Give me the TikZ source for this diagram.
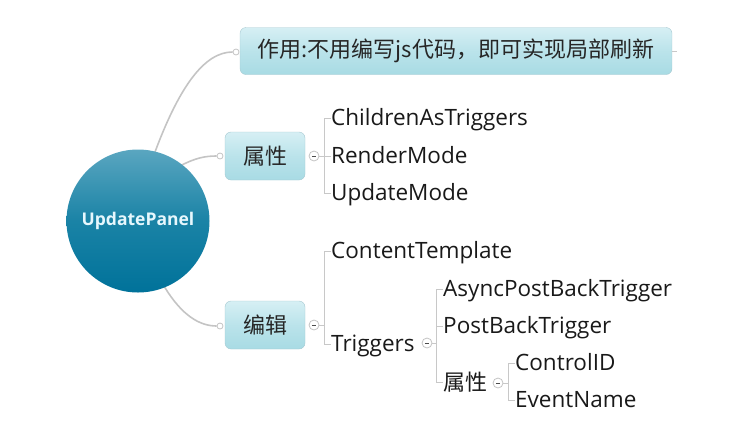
\documentclass[tikz,border=0pt]{standalone}
\usepackage{fontspec}
\setmainfont{Open Sans}
\newfontfamily\cjk{Noto Sans CJK SC}
\definecolor{lnk}{HTML}{C4C4C4}
\definecolor{brk}{HTML}{C8C8C8}
\definecolor{boxtop}{HTML}{D6EFF4}
\definecolor{boxbot}{HTML}{A8DBE4}
\definecolor{boxline}{HTML}{A6C9D1}
\definecolor{ctop}{HTML}{5AA6C0}
\definecolor{cmid}{HTML}{1A83A6}
\definecolor{cbot}{HTML}{00729A}
\tikzset{
  x=1pt, y=-1pt,
  topic/.style={draw=boxline, rounded corners=6pt, top color=boxtop, bottom color=boxbot, middle color=boxbot!60!boxtop, inner sep=0pt, font=\cjk\fontsize{22}{22}\selectfont, text=black!85},
  leaf/.style={anchor=base west, inner sep=0pt, font=\fontsize{22.5}{23}\selectfont, text=black!90},
  cleaf/.style={anchor=west, inner sep=0pt, font=\cjk\fontsize{22}{22}\selectfont, text=black!90},
  link/.style={draw=lnk, line width=1.6pt},
  brack/.style={draw=brk, line width=0.9pt},
  dot/.style={circle, draw=lnk, fill=white, minimum size=6pt, inner sep=0pt, line width=0.8pt},
  fold/.style={circle, draw=lnk, fill=white, minimum size=10pt, inner sep=0pt, line width=0.8pt, path picture={\draw[black!70, line width=0.8pt] ([xshift=-2.2pt]path picture bounding box.center) -- ([xshift=2.2pt]path picture bounding box.center);}}
}
\begin{document}
\begin{tikzpicture}
\useasboundingbox (0,0) rectangle (738,429);
% top box
\node[topic, minimum width=432pt, minimum height=47pt] (t1) at (456,51) {作用:不用编写js代码，即可实现局部刷新};
\coordinate (t1s) at (677,51);
\draw[brack] (t1.east) -- (t1s);
\node[topic, minimum width=80pt, minimum height=48pt] (p) at (265,156) {属性};
\node[topic, minimum width=80pt, minimum height=48pt] (e) at (265,325) {编辑};
\node[dot] (d1) at (236,52) {};
\node[dot] (d2) at (220,156) {};
\node[dot] (d3) at (220,326) {};
% connectors from center
\coordinate (c1) at (155,152);
\coordinate (c2) at (180,166);
\coordinate (c3) at (164,286);
\draw[link] (c1) .. controls (180,85) and (205,52) .. (d1.west);
\draw[link] (c2) .. controls (195,158) and (205,156) .. (d2.west);
\draw[link] (c3) .. controls (182,316) and (200,326) .. (d3.west);
% center circle
\node[circle, minimum size=143pt, inner sep=0pt, top color=ctop, bottom color=cbot, middle color=cmid] (c) at (138,221) {};
\node[font=\bfseries\fontsize{17.5}{18}\selectfont, text=white!90!cyan] (ct) at (138,221) {UpdatePanel};
% 属性 children
\node[fold] (f1) at (314,156) {};
\node[leaf] (a1) at (331,125) {ChildrenAsTriggers};
\node[leaf] (a2) at (331,163) {RenderMode};
\node[leaf] (a3) at (331,200) {UpdateMode};
\draw[brack] (f1.east) -- (324,156);
\draw[brack] ([yshift=7pt]a1.base west) -- (324,118) -- (324,193) -- ([yshift=7pt]a3.base west);
\draw[brack] (324,156) -- ([yshift=7pt]a2.base west);
% 编辑 children
\node[fold] (f2) at (314,325) {};
\node[leaf] (b1) at (331,258) {ContentTemplate};
\node[leaf] (b2) at (331,351) {Triggers};
\draw[brack] (f2.east) -- (324,325);
\draw[brack] ([yshift=7pt]b1.base west) -- (324,251) -- (324,344) -- ([yshift=7pt]b2.base west);
% Triggers children
\node[fold] (f3) at (427,343) {};
\node[leaf] (g1) at (443,296) {AsyncPostBackTrigger};
\node[leaf] (g2) at (443,333) {PostBackTrigger};
\node[cleaf] (g3) at (443,382) {属性};
\draw[brack] (f3.east) -- (436,343);
\draw[brack] ([yshift=7pt]g1.base west) -- (436,289) -- (436,382) -- (g3.west);
\draw[brack] (436,326) -- ([yshift=7pt]g2.base west);
% 属性 children
\node[fold] (f4) at (498,383) {};
\node[leaf] (h1) at (515,370) {ControlID};
\node[leaf] (h2) at (515,407) {EventName};
\draw[brack] (f4.east) -- (508,383);
\draw[brack] ([yshift=7pt]h1.base west) -- (508,363) -- (508,400) -- ([yshift=7pt]h2.base west);
\end{tikzpicture}
\end{document}
